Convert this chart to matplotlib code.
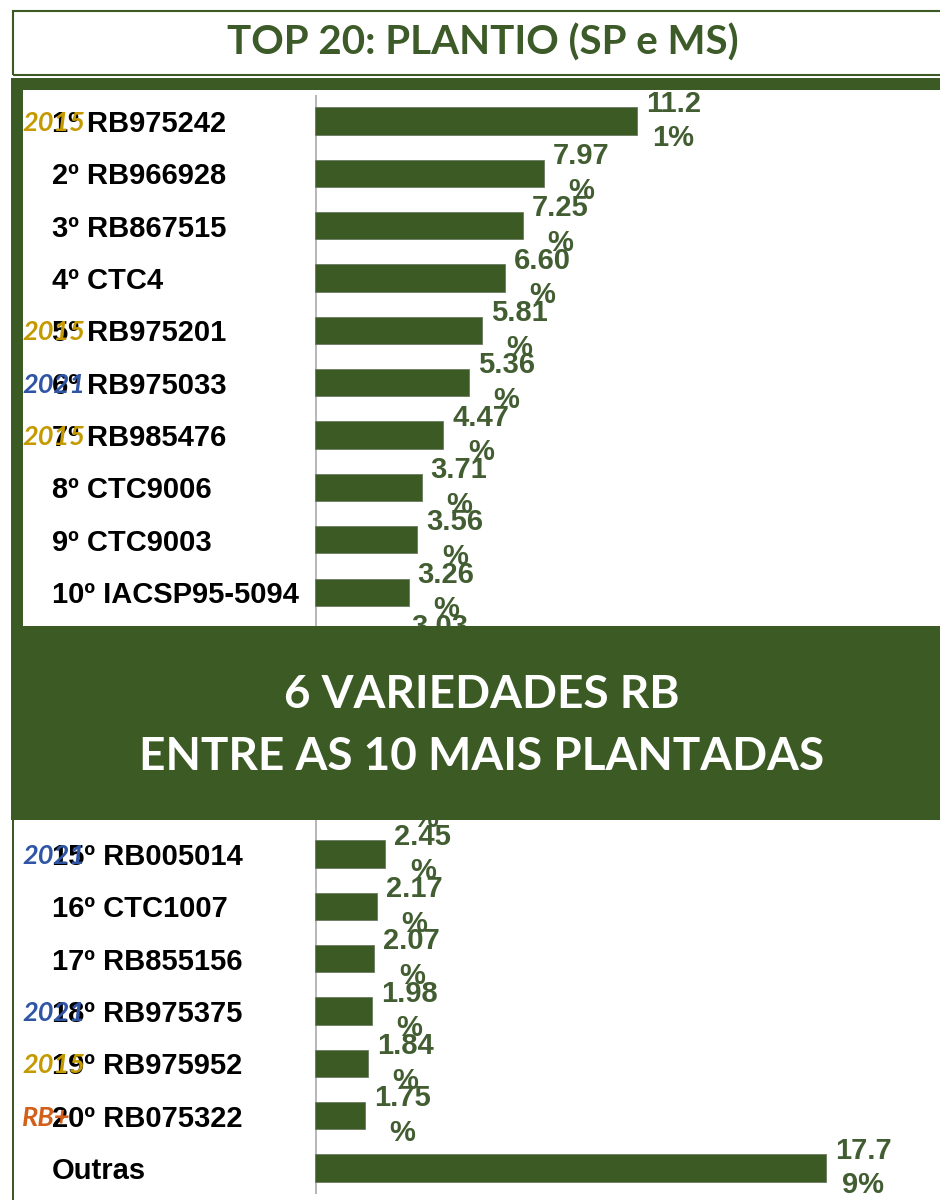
import matplotlib
matplotlib.use("Agg")
import matplotlib.pyplot as plt
from matplotlib.patches import Rectangle
from matplotlib.transforms import offset_copy

# ---------------- data ----------------
categories = ["1º RB975242", "2º RB966928", "3º RB867515", "4º CTC4", "5º RB975201",
              "6º RB975033", "7º RB985476", "8º CTC9006", "9º CTC9003", "10º IACSP95-5094",
              "11º CTC15", "12º RB92579", "13º CTC20", "14º RB855453",
              "15º RB005014", "16º CTC1007", "17º RB855156", "18º RB975375",
              "19º RB975952", "20º RB075322", "Outras"]
values = [11.21, 7.97, 7.25, 6.60, 5.81, 5.36, 4.47, 3.71, 3.56, 3.26,
          3.03, 2.85, 2.70, 2.55, 2.45, 2.17, 2.07, 1.98, 1.84, 1.75, 17.79]
tag_rows = [0, 4, 5, 6, 14, 17, 18, 19]
tag_texts = ["2015", "2015", "2021", "2015", "2021", "2021", "2015", "RB+"]
tag_colors = ["#C49A00", "#C49A00", "#2F55A4", "#C49A00", "#2F55A4", "#2F55A4", "#C49A00", "#D2601A"]
title = "TOP 20: PLANTIO (SP e MS)"
banner_lines = ["6 VARIEDADES RB", "ENTRE AS 10 MAIS PLANTADAS"]

GREEN = "#3B5A24"
W, H = 940, 1200
fig = plt.figure(figsize=(W / 100, H / 100), dpi=100)
fig.patch.set_facecolor("white")

def fx(px):
    return px / W

def fy(py):
    return 1 - py / H

# axes geometry in pixels
ax_left, ax_right = 315, 940
row0, step = 121, 52.35
n = len(categories)
ax_top = row0 - step / 2
ax_bot = row0 + (n - 1) * step + step / 2
ax = fig.add_axes([fx(ax_left), fy(ax_bot), fx(ax_right - ax_left), (ax_bot - ax_top) / H])
ax.set_xlim(0, (ax_right - ax_left) / 28.72)
ax.set_ylim(n - 0.5, -0.5)
ax.axis("off")
ax.axvline(0, color="#B8B8B8", lw=2.2, zorder=1)

ypos = list(range(n))
ax.barh(ypos, values, height=0.52, color=GREEN, edgecolor="#6a7a60", linewidth=0.6, zorder=2)

lab_tr = offset_copy(ax.transData, fig=fig, x=9, y=0, units="dots")
for i, v in enumerate(values):
    s = f"{v:.2f}%"
    s = s[:4] + "\n" + s[4:]
    ax.text(v, i, s, transform=lab_tr, ha="left", va="center", multialignment="center",
            fontsize=21, fontweight="bold", color="#415D31", family="Liberation Sans",
            linespacing=1.3, zorder=3, clip_on=False)

ytr = ax.get_yaxis_transform()
for i, c in enumerate(categories):
    ax.text((52 - ax_left) / (ax_right - ax_left), i, c, transform=ytr, ha="left",
            va="center_baseline", fontsize=21, fontweight="bold", color="black",
            family="Liberation Sans", clip_on=False, zorder=3)

for r, t, c in zip(tag_rows, tag_texts, tag_colors):
    ax.text((22 - ax_left) / (ax_right - ax_left), r, t, transform=ytr, ha="left",
            va="center_baseline", fontsize=19.5, fontweight="bold", style="italic", color=c,
            family="Lato", clip_on=False, zorder=4)

# ---------------- frames ----------------
def rect(x0, y0, x1, y1, **kw):
    r = Rectangle((fx(x0), fy(y1)), fx(x1 - x0), (y1 - y0) / H, transform=fig.transFigure, **kw)
    fig.add_artist(r)
    return r

rect(13, 11, 960, 75, fill=False, edgecolor=GREEN, lw=1.5, zorder=5)
rect(11, 78, 960, 90, facecolor=GREEN, edgecolor="none", zorder=5)
rect(11, 78, 23, 630, facecolor=GREEN, edgecolor="none", zorder=5)
rect(11, 626, 960, 820, facecolor=GREEN, edgecolor="none", zorder=5)
rect(12, 820, 14, 1210, facecolor=GREEN, edgecolor="none", zorder=5)

fig.text(fx(483), fy(43), title, ha="center", va="center", fontsize=29, fontweight="bold",
         color="#3C5B28", family="Lato", zorder=6)
fig.text(fx(482), fy(695), banner_lines[0], ha="center", va="center", fontsize=33,
         fontweight="bold", color="white", family="Lato", zorder=6)
fig.text(fx(482), fy(757), banner_lines[1], ha="center", va="center", fontsize=33,
         fontweight="bold", color="white", family="Lato", zorder=6)

fig.savefig("out.png", dpi=100)
